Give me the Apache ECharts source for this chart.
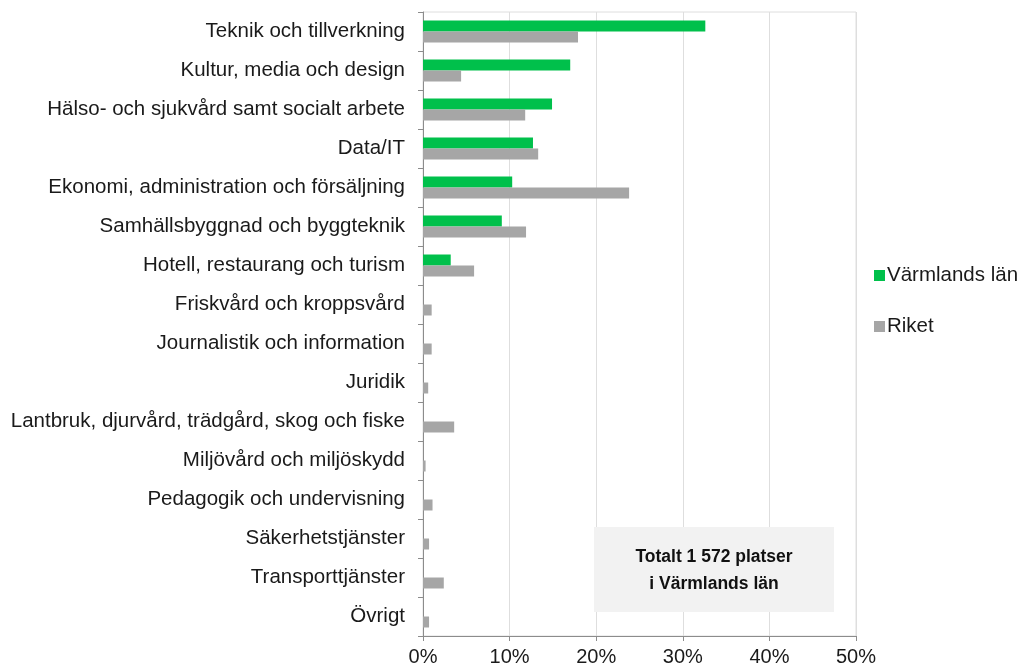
<!DOCTYPE html>
<html>
<head>
<meta charset="utf-8">
<script src="https://cdn.jsdelivr.net/npm/echarts@6/dist/echarts.min.js"></script>
<style>
  html, body { margin: 0; padding: 0; background: #fff; }
  #chart { width: 1022px; height: 668px; }
</style>
</head>
<body>
<div id="chart"></div>
<script>
// utbildningsområden
const categories = [
  'Teknik och tillverkning',
  'Kultur, media och design',
  'Hälso- och sjukvård samt socialt arbete',
  'Data/IT',
  'Ekonomi, administration och försäljning',
  'Samhällsbyggnad och byggteknik',
  'Hotell, restaurang och turism',
  'Friskvård och kroppsvård',
  'Journalistik och information',
  'Juridik',
  'Lantbruk, djurvård, trädgård, skog och fiske',
  'Miljövård och miljöskydd',
  'Pedagogik och undervisning',
  'Säkerhetstjänster',
  'Transporttjänster',
  'Övrigt'
]

// andel platser, procent
const varmland = [32.6, 17.0, 14.9, 12.7, 10.3, 9.1, 3.2, 0, 0, 0, 0, 0, 0, 0, 0, 0]
const riket = [17.9, 4.4, 11.8, 13.3, 23.8, 11.9, 5.9, 1.0, 1.0, 0.6, 3.6, 0.3, 1.1, 0.7, 2.4, 0.7]

const xTicks = [0, 10, 20, 30, 40, 50]

const FONT = '"Liberation Sans", Arial, sans-serif'

const chart = echarts.init(document.getElementById('chart'))

chart.setOption({
  animation: false,
  textStyle: { fontFamily: FONT },
  grid: {
    left: 423,
    right: 166,
    top: 12,
    bottom: 32,
    show: true,
    borderColor: '#dedede',
    borderWidth: 1,
  },
  legend: {
    orient: 'vertical',
    left: 869,
    top: 260,
    itemWidth: 11,
    itemHeight: 11,
    itemGap: 30,
    icon: 'rect',
    itemStyle: { borderWidth: 0 },
    textStyle: { fontSize: 20.5, color: '#1a1a1a', fontFamily: FONT, padding: [0, 0, 0, -3] },
    data: ['Värmlands län', 'Riket'],
  },
  xAxis: {
    type: 'value',
    min: xTicks[0],
    max: xTicks[xTicks.length - 1],
    interval: 10,
    axisLine: { show: true, lineStyle: { color: '#8c8c8c' } },
    axisTick: { show: true, length: 5, lineStyle: { color: '#8c8c8c' } },
    splitLine: { show: true, lineStyle: { color: '#dedede' } },
    axisLabel: {
      formatter: v => v + '%',
      fontSize: 20,
      color: '#1a1a1a',
      margin: 11,
    },
  },
  yAxis: {
    type: 'category',
    inverse: true,
    data: categories,
    axisLine: { show: true, lineStyle: { color: '#8c8c8c' } },
    axisTick: { show: true, length: 5, lineStyle: { color: '#8c8c8c' } },
    axisLabel: { fontSize: 20.5, color: '#1a1a1a', margin: 18 },
  },
  series: [
    {
      name: 'Värmlands län',
      type: 'bar',
      data: varmland,
      barWidth: 11,
      barGap: '0%',
      itemStyle: { color: '#00c04b' },
    },
    {
      name: 'Riket',
      type: 'bar',
      data: riket,
      barWidth: 11,
      itemStyle: { color: '#a6a6a6' },
    },
  ],
  graphic: [
    {
      type: 'rect',
      left: 594,
      top: 527,
      shape: { width: 240, height: 85 },
      style: { fill: '#f2f2f2' },
      z: 5,
    },
    {
      type: 'text',
      x: 714,
      y: 571,
      z: 6,
      style: {
        text: 'Totalt 1 572 platser\ni Värmlands län',
        align: 'center',
        verticalAlign: 'middle',
        font: 'bold 17.5px ' + FONT,
        lineHeight: 27,
        fill: '#111',
      },
    },
  ],
})
</script>
</body>
</html>
